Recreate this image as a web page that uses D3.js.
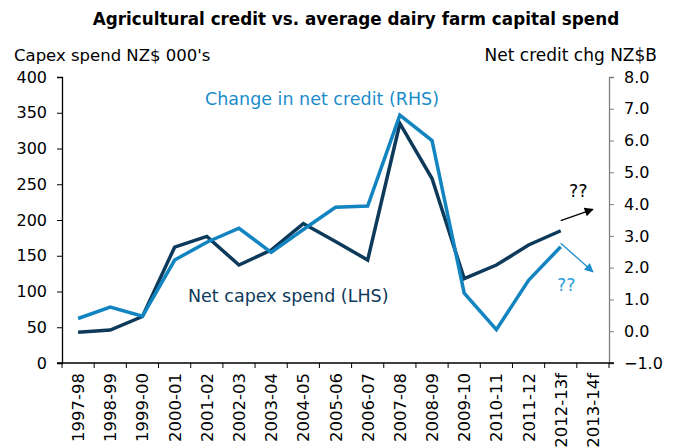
<!DOCTYPE html>
<meta charset="utf-8">
<script src="https://d3js.org/d3.v7.min.js"></script>
<style>
  body { margin: 0; background: #fff; }
  text { font-family: "DejaVu Sans", Verdana, sans-serif; }
</style>
<div id="chart"></div>
<script>
// categories and series
const years = ["1997-98", "1998-99", "1999-00", "2000-01", "2001-02", "2002-03", "2003-04",
  "2004-05", "2005-06", "2006-07", "2007-08", "2008-09", "2009-10", "2010-11", "2011-12",
  "2012-13f", "2013-14f"];
// net capex spend, NZ$ 000's (LHS)
const capex = [43, 46, 65, 162, 177, 137, 158, 195, 170, 144, 335, 258, 118, 137, 165, 185];
// change in net credit, NZ$B (RHS)
const credit = [0.4, 0.76, 0.47, 2.24, 2.8, 3.24, 2.48, 3.2, 3.9, 3.94, 6.8, 6.0, 1.2, 0.05, 1.6, 2.66];
const leftTicks = [0, 50, 100, 150, 200, 250, 300, 350, 400];
const rightTicks = [-1, 0, 1, 2, 3, 4, 5, 6, 7, 8];
// forecast arrows: [from category, to category, from value, to value]
const capexArrow = ["2012-13f", "2013-14f", 199, 215];
const creditArrow = ["2012-13f", "2013-14f", 2.77, 1.87];

const W = 673, H = 448;
const plot = {left: 62, right: 609, top: 77, bottom: 363};

const svg = d3.select("#chart").append("svg")
  .attr("width", W).attr("height", H);

const defs = svg.append("defs");
function marker(id, color) {
  defs.append("marker")
    .attr("id", id)
    .attr("viewBox", "0 0 10 10")
    .attr("refX", 9).attr("refY", 5)
    .attr("markerWidth", 10).attr("markerHeight", 9)
    .attr("markerUnits", "userSpaceOnUse")
    .attr("orient", "auto")
    .append("path").attr("d", "M0,0 L10,5 L0,10 Z").attr("fill", color);
}
marker("arrBlack", "#000");
marker("arrBlue", "#1a8ccb");

const x = d3.scaleBand().domain(years).range([plot.left, plot.right]).padding(0);
const xc = d => x(d) + x.bandwidth() / 2;
const yL = d3.scaleLinear().domain([0, 400]).range([plot.bottom, plot.top]);
const yR = d3.scaleLinear().domain([-1, 8]).range([plot.bottom, plot.top]);

// title
svg.append("text")
  .attr("x", 356).attr("y", 25)
  .attr("text-anchor", "middle")
  .style("font-weight", "bold").style("font-size", "16.8px")
  .text("Agricultural credit vs. average dairy farm capital spend");

svg.append("text").attr("x", 14).attr("y", 61)
  .style("font-size", "16.5px").text("Capex spend NZ$ 000's");
svg.append("text").attr("x", 657).attr("y", 61).attr("text-anchor", "end")
  .style("font-size", "17px").text("Net credit chg NZ$B");

// left axis
const gL = svg.append("g").attr("transform", `translate(${plot.left},0)`)
  .call(d3.axisLeft(yL).tickValues(leftTicks).tickSize(5).tickPadding(10));
gL.select(".domain").attr("stroke", "#000").attr("stroke-width", 1.3);
gL.selectAll(".tick line").attr("stroke", "#000");
gL.selectAll("text").style("font-size", "16px").attr("fill", "#000")
  .style("font-family", "DejaVu Sans, sans-serif");

// right axis
const gR = svg.append("g").attr("transform", `translate(${plot.right},0)`)
  .call(d3.axisRight(yR).tickValues(rightTicks).tickFormat(d3.format(".1f")).tickSize(5).tickPadding(10));
gR.select(".domain").attr("stroke", "#7f7f7f").attr("stroke-width", 1.3);
gR.selectAll(".tick line").attr("stroke", "#7f7f7f");
gR.selectAll("text").style("font-size", "16px").attr("fill", "#000")
  .style("font-family", "DejaVu Sans, sans-serif");

// bottom axis: ticks on band edges, labels on band centres
const gB = svg.append("g");
gB.append("line").attr("x1", plot.left - 5).attr("x2", plot.right + 5)
  .attr("y1", plot.bottom).attr("y2", plot.bottom).attr("stroke", "#000").attr("stroke-width", 1.3);
gB.selectAll("line.tk").data(years.concat(["end"])).join("line")
  .attr("class", "tk")
  .attr("x1", d => d === "end" ? plot.right : x(d)).attr("x2", d => d === "end" ? plot.right : x(d))
  .attr("y1", plot.bottom).attr("y2", plot.bottom + 5).attr("stroke", "#000");
gB.selectAll("text").data(years).join("text")
  .attr("transform", d => `translate(${xc(d) + 6},${plot.bottom + 10}) rotate(-90)`)
  .attr("text-anchor", "end")
  .style("font-size", "16.5px")
  .text(d => d);

// lines
const lineL = d3.line().x((d, i) => xc(years[i])).y(d => yL(d));
const lineR = d3.line().x((d, i) => xc(years[i])).y(d => yR(d));

svg.append("path").datum(capex).attr("d", lineL)
  .attr("fill", "none").attr("stroke", "#0d3a5a").attr("stroke-width", 3.5)
  .attr("stroke-linejoin", "miter");
svg.append("path").datum(credit).attr("d", lineR)
  .attr("fill", "none").attr("stroke", "#1284c0").attr("stroke-width", 3.5)
  .attr("stroke-linejoin", "miter");

// forecast arrows
svg.append("line")
  .attr("x1", xc(capexArrow[0])).attr("y1", yL(capexArrow[2]))
  .attr("x2", xc(capexArrow[1])).attr("y2", yL(capexArrow[3]))
  .attr("stroke", "#000").attr("stroke-width", 1.3).attr("marker-end", "url(#arrBlack)");
svg.append("line")
  .attr("x1", xc(creditArrow[0])).attr("y1", yR(creditArrow[2]))
  .attr("x2", xc(creditArrow[1])).attr("y2", yR(creditArrow[3]))
  .attr("stroke", "#1a8ccb").attr("stroke-width", 1.3).attr("marker-end", "url(#arrBlue)");

// annotations
svg.append("text").attr("x", 205).attr("y", 105)
  .style("font-size", "17.5px").attr("fill", "#1a8ccb").text("Change in net credit (RHS)");
svg.append("text").attr("x", 188).attr("y", 302)
  .style("font-size", "17.5px").attr("fill", "#0d3a5a").text("Net capex spend (LHS)");
svg.append("text").attr("x", 569).attr("y", 197)
  .style("font-size", "17.5px").attr("fill", "#000").text("??");
svg.append("text").attr("x", 557).attr("y", 291)
  .style("font-size", "17.5px").attr("fill", "#2a9fd9").text("??");
</script>
